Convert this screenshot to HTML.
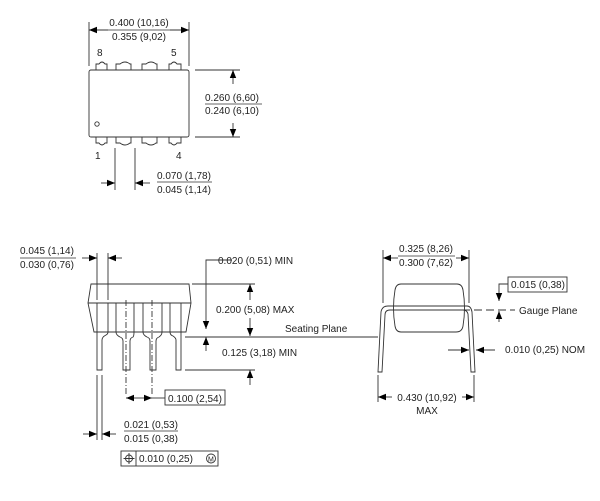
<!DOCTYPE html>
<html><head><meta charset="utf-8"><style>
html,body{margin:0;padding:0;background:#fff}
svg{display:block}
text{font-family:"Liberation Sans",sans-serif;font-size:10px;fill:#222}
</style></head><body>
<svg width="600" height="501" viewBox="0 0 600 501" xmlns="http://www.w3.org/2000/svg">
<defs>
<marker id="a" viewBox="0 0 10 10" refX="10" refY="5" markerWidth="8" markerHeight="8" orient="auto" markerUnits="userSpaceOnUse"><path d="M0,1 L10,5 L0,9z" fill="#000"/></marker>
</defs>
<g stroke="#333" stroke-width="0.9" fill="none">
<!-- TOP VIEW -->
<rect x="89" y="70" width="100" height="67" rx="2"/>
<circle cx="97" cy="124" r="2.2"/>
<path d="M96,70 v-6 h3 q3,-4 6,0 h2 v6 M116,70 v-6 h4 q5,-4 10,0 h1 v6 M142,70 v-6 h4 q5,-4 10,0 h1 v6 M169,70 v-6 h2 q3,-4 6,0 h4 v6"/>
<path d="M96,137 v6 h3 q3,4 6,0 h2 v-6 M116,137 v6 h4 q5,4 10,0 h1 v-6 M142,137 v6 h4 q5,4 10,0 h1 v-6 M169,137 v6 h2 q3,4 6,0 h4 v-6"/>
<path d="M89,66 V22 M189,66 V22"/>
<path d="M108,30 H89" marker-end="url(#a)"/>
<path d="M170,30 H189" marker-end="url(#a)"/>
<path d="M195,70 H240 M195,137 H240"/>
<path d="M233,84 V70" marker-end="url(#a)"/>
<path d="M233,123 V137" marker-end="url(#a)"/>
<path d="M115,148 V190 M135,148 V190"/>
<path d="M101,183 H115" marker-end="url(#a)"/>
<path d="M150,183 H135" marker-end="url(#a)"/>
<!-- SIDE VIEW -->
<path d="M91,284 H189 L191,303 L186,332 H94 L88,303 Z"/>
<path d="M88,303 H191"/>
<path d="M97,303 V332 M108,303 V332 M116,303 V332 M134,303 V332 M143,303 V332 M162,303 V332 M170,303 V332 M181,303 V332"/>
<path d="M97,332 V370 h5 V340 q0,-3 4,-5 q2,-1 2,-3"/>
<path d="M116,332 q0,3 4,5 q3,1 3,4 V370 h7 V341 q0,-3 3,-4 q1,-1 1,-5"/>
<path d="M143,332 q0,3 4,5 q3,1 3,4 V370 h6 V341 q0,-3 3,-4 q3,-2 3,-5"/>
<path d="M170,332 q0,3 3,4 q3,2 3,4 V370 h5 V332"/>
<path d="M126,300 V395 M152,300 V395" stroke-dasharray="6,2,1,2"/>
<path d="M97,253 V300 M108,253 V300 M97,375 V440 M102,375 V440"/>
<path d="M82,258 H97" marker-end="url(#a)"/>
<path d="M122,258 H108" marker-end="url(#a)"/>
<path d="M83,434 H97" marker-end="url(#a)"/>
<path d="M116,434 H102" marker-end="url(#a)"/>
<path d="M139,398 H126" marker-end="url(#a)"/>
<path d="M139,398 H152" marker-end="url(#a)"/>
<path d="M152,398 H165"/>
<rect x="165" y="390" width="60" height="15"/>
<rect x="121" y="451" width="97" height="15"/>
<path d="M136,451 V466"/>
<circle cx="129" cy="458.5" r="3.5"/><path d="M129,453 V464 M123.5,458.5 H134.5"/>
<circle cx="211" cy="458.5" r="4.5"/>
<path d="M232,260 H206 V329" marker-end="url(#a)"/>
<path d="M206,351 V337" marker-end="url(#a)"/>
<path d="M192,284 H255 M185,370 H255"/>
<path d="M250,300 V284" marker-end="url(#a)"/>
<path d="M250,318 V336" marker-end="url(#a)"/>
<path d="M250,385 V370" marker-end="url(#a)"/>
<path d="M185,337 H378"/>
<!-- END VIEW -->
<path d="M401,284 H457 Q462,284 463,290 Q466,308 463,326 Q462,332 456,332 H401 Q396,332 395,326 Q392,308 395,290 Q396,284 401,284 Z"/>
<path d="M378,372 L381,312 Q382,306 388,306 H467 Q471,306 472,312 L475,372 H471 L468,314 Q467,310 463,310 H390 Q385,310 385,315 L382,372 Z"/>
<path d="M383,303 V250 M469,303 V250"/>
<path d="M398,258 H383" marker-end="url(#a)"/>
<path d="M456,258 H469" marker-end="url(#a)"/>
<path d="M450,310 H515" stroke-dasharray="8,4"/>
<rect x="508" y="277" width="59" height="15"/>
<path d="M508,284 H499 V301" marker-end="url(#a)"/>
<path d="M499,322 V311" marker-end="url(#a)"/>
<path d="M448,350 H469" marker-end="url(#a)"/>
<path d="M495,350 H476" marker-end="url(#a)"/>
<path d="M378,375 V402 M474,375 V402"/>
<path d="M392,397 H378" marker-end="url(#a)"/>
<path d="M462,397 H474" marker-end="url(#a)"/>
</g>
<g>
<text x="139" y="26" text-anchor="middle">0.400 (10,16)</text>
<line x1="108" y1="30" x2="170" y2="30" stroke="#333" stroke-width="0.8"/>
<text x="139" y="40" text-anchor="middle">0.355 (9,02)</text>
<text x="97" y="56">8</text><text x="171" y="56">5</text>
<text x="95" y="159">1</text><text x="176" y="159">4</text>
<text x="205" y="101">0.260 (6,60)</text>
<line x1="205" y1="104" x2="262" y2="104" stroke="#333" stroke-width="0.8"/>
<text x="205" y="114">0.240 (6,10)</text>
<text x="157" y="179">0.070 (1,78)</text>
<line x1="157" y1="182" x2="212" y2="182" stroke="#333" stroke-width="0.8"/>
<text x="157" y="193">0.045 (1,14)</text>
<text x="20" y="254">0.045 (1,14)</text>
<line x1="20" y1="258" x2="76" y2="258" stroke="#333" stroke-width="0.8"/>
<text x="20" y="268">0.030 (0,76)</text>
<text x="218" y="264">0.020 (0,51) MIN</text>
<text x="216" y="313">0.200 (5,08) MAX</text>
<text x="285" y="332">Seating Plane</text>
<text x="222" y="356">0.125 (3,18) MIN</text>
<text x="168" y="402">0.100 (2,54)</text>
<text x="124" y="428">0.021 (0,53)</text>
<line x1="124" y1="431" x2="178" y2="431" stroke="#333" stroke-width="0.8"/>
<text x="124" y="442">0.015 (0,38)</text>
<text x="139" y="462">0.010 (0,25)</text>
<text x="208" y="461.5" style="font-size:7px">M</text>
<text x="426" y="252" text-anchor="middle">0.325 (8,26)</text>
<line x1="398" y1="256" x2="455" y2="256" stroke="#333" stroke-width="0.8"/>
<text x="426" y="266" text-anchor="middle">0.300 (7,62)</text>
<text x="511" y="288">0.015 (0,38)</text>
<text x="519" y="314">Gauge Plane</text>
<text x="505" y="353">0.010 (0,25) NOM</text>
<text x="427" y="401" text-anchor="middle">0.430 (10,92)</text>
<text x="427" y="414" text-anchor="middle">MAX</text>
</g>
</svg>
</body></html>
